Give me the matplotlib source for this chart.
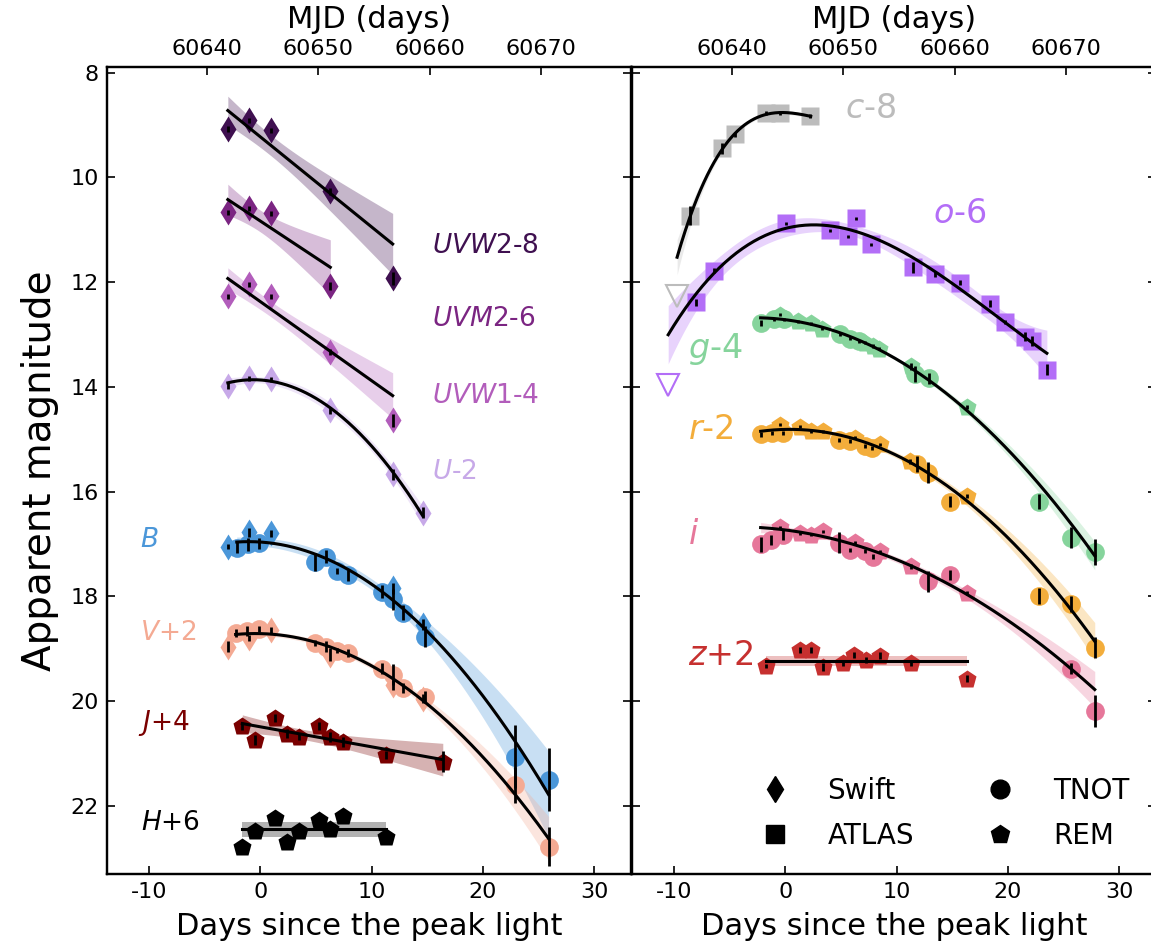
import numpy as np
import matplotlib.pyplot as plt
from matplotlib.lines import Line2D

plt.rcParams['font.family'] = 'DejaVu Sans'
plt.rcParams['mathtext.fontset'] = 'dejavusans'
plt.rcParams['axes.unicode_minus'] = False

MJD_PEAK = 60644.76

# ---- left panel: Swift UV, optical and NIR (magnitudes already offset) ----
uvw2_day = [-2.9, -1.0, 1.0, 6.3, 11.9]
uvw2_mag = [9.08, 8.91, 9.10, 10.27, 11.93]
uvw2_err = [0.05, 0.05, 0.05, 0.06, 0.12]
uvw2_tel = 'SSSSS'

uvm2_day = [-2.9, -1.0, 1.0, 6.3]
uvm2_mag = [10.67, 10.59, 10.69, 12.08]
uvm2_err = [0.05, 0.05, 0.05, 0.08]
uvm2_tel = 'SSSS'

uvw1_day = [-2.9, -1.0, 1.0, 6.3, 11.9]
uvw1_mag = [12.27, 12.04, 12.27, 13.34, 14.64]
uvw1_err = [0.05, 0.05, 0.05, 0.06, 0.12]
uvw1_tel = 'SSSSS'

u_day = [-2.9, -1.0, 1.0, 6.3, 11.9, 14.6]
u_mag = [13.99, 13.84, 13.86, 14.45, 15.67, 16.40]
u_err = [0.06, 0.04, 0.05, 0.06, 0.10, 0.10]
u_tel = 'SSSSSS'

b_day = [-2.9, -1.0, 1.0, 11.9, 14.6,
         -2.1, -1.1, -0.1, 4.9, 5.9, 6.9, 7.9, 10.9, 11.9, 12.8, 14.8, 22.9, 25.9]
b_mag = [17.05, 16.78, 16.80, 17.85, 18.54,
         17.07, 17.01, 16.99, 17.34, 17.24, 17.51, 17.60, 17.91, 18.06, 18.31, 18.77, 21.06, 21.50]
b_err = [0.05, 0.08, 0.06, 0.10, 0.10,
         0.10, 0.12, 0.10, 0.17, 0.12, 0.06, 0.10, 0.12, 0.20, 0.15, 0.20, 0.60, 0.60]
b_tel = 'SSSSS' + 'T' * 13

v_day = [-2.9, -1.0, 1.0, 6.3, 11.9, 14.6,
         -2.2, -1.2, -0.1, 4.9, 5.9, 6.9, 7.9, 10.9, 11.9, 12.8, 14.8, 22.9, 25.9]
v_mag = [18.96, 18.79, 18.64, 19.11, 19.69, 19.95,
         18.70, 18.66, 18.62, 18.89, 18.96, 19.04, 19.08, 19.38, 19.50, 19.75, 19.92, 21.60, 22.78]
v_err = [0.10, 0.06, 0.05, 0.12, 0.10, 0.08,
         0.08, 0.10, 0.06, 0.05, 0.10, 0.05, 0.08, 0.10, 0.20, 0.10, 0.12, 0.35, 0.37]
v_tel = 'SSSSSS' + 'T' * 13

j_day = [-1.6, -0.5, 1.3, 2.4, 3.5, 5.3, 6.3, 7.4, 11.3, 16.4]
j_mag = [20.47, 20.74, 20.32, 20.62, 20.68, 20.47, 20.68, 20.78, 21.03, 21.16]
j_err = [0.08, 0.10, 0.08, 0.08, 0.06, 0.08, 0.10, 0.10, 0.08, 0.20]
j_tel = 'R' * 10

h_day = [-1.6, -0.5, 1.3, 2.4, 3.5, 5.3, 6.3, 7.4, 11.3]
h_mag = [22.78, 22.48, 22.23, 22.69, 22.48, 22.27, 22.44, 22.19, 22.59]
h_err = [0.03, 0.03, 0.03, 0.03, 0.03, 0.03, 0.03, 0.03, 0.06]
h_tel = 'R' * 9

# ---- right panel: ATLAS, TNOT and REM optical ----
c_day = [-8.5, -5.7, -4.5, -1.7, -0.5, 2.2]
c_mag = [10.73, 9.45, 9.18, 8.78, 8.78, 8.83]
c_err = [0.18, 0.10, 0.05, 0.04, 0.04, 0.04]
c_tel = 'AAAAAA'

o_day = [-8.0, -6.4, 0.1, 4.0, 5.6, 6.4, 7.7, 11.5, 13.5, 15.7, 18.4, 19.7, 21.5, 22.2, 23.5]
o_mag = [12.39, 11.78, 10.88, 11.01, 11.13, 10.78, 11.28, 11.72, 11.84, 12.01,
         12.41, 12.77, 13.04, 13.13, 13.67]
o_err = [0.06, 0.04, 0.03, 0.03, 0.03, 0.03, 0.03, 0.10, 0.06, 0.05, 0.06, 0.04, 0.08, 0.10, 0.10]
o_tel = 'A' * 15

g_day = [-2.2, -1.0, -0.1, 4.9, 5.8, 6.6, 11.7, 12.9, 22.8, 25.7, 27.8,
         -0.5, 1.2, 2.3, 3.3, 7.2, 7.9, 8.4, 11.3, 16.3]
g_mag = [12.78, 12.71, 12.71, 13.00, 13.08, 13.13, 13.76, 13.84, 16.19, 16.88, 17.15,
         12.62, 12.75, 12.79, 12.89, 13.16, 13.22, 13.27, 13.61, 14.38]
g_err = [0.05, 0.03, 0.03, 0.03, 0.03, 0.03, 0.15, 0.10, 0.15, 0.20, 0.25,
         0.03, 0.03, 0.03, 0.03, 0.03, 0.03, 0.03, 0.06, 0.04]
g_tel = 'T' * 11 + 'R' * 9

r_day = [-2.2, -1.2, -0.15, 4.8, 5.8, 7.2, 7.8, 11.8, 12.8, 14.8, 22.8, 25.7, 27.8,
         -0.5, 1.3, 2.3, 3.4, 6.3, 8.5, 11.2, 16.3]
r_mag = [14.91, 14.88, 14.88, 15.01, 15.04, 15.13, 15.17, 15.48, 15.64, 16.19, 17.99, 18.14, 18.98,
         14.72, 14.76, 14.85, 14.85, 14.97, 15.10, 15.42, 16.08]
r_err = [0.05, 0.04, 0.04, 0.04, 0.04, 0.04, 0.04, 0.15, 0.20, 0.10, 0.15, 0.15, 0.20,
         0.03, 0.03, 0.03, 0.03, 0.03, 0.03, 0.05, 0.04]
r_tel = 'T' * 13 + 'R' * 8

i_day = [-2.2, -1.25, -0.15, 4.8, 5.8, 7.2, 7.9, 12.8, 14.8, 25.7, 27.8,
         -0.5, 1.3, 2.3, 3.4, 6.3, 8.5, 11.3, 16.3]
i_mag = [17.01, 16.92, 16.82, 16.98, 17.11, 17.14, 17.24, 17.71, 17.59, 19.38, 20.19,
         16.68, 16.79, 16.82, 16.76, 16.97, 17.14, 17.43, 17.94]
i_err = [0.15, 0.10, 0.10, 0.20, 0.04, 0.04, 0.04, 0.20, 0.10, 0.10, 0.30,
         0.03, 0.03, 0.03, 0.03, 0.03, 0.03, 0.04, 0.04]
i_tel = 'T' * 11 + 'R' * 8

z_day = [-1.7, 1.3, 2.3, 3.4, 5.2, 6.2, 7.3, 8.5, 11.3, 16.3]
z_mag = [19.33, 19.02, 19.02, 19.35, 19.27, 19.12, 19.21, 19.13, 19.27, 19.57]
z_err = [0.04, 0.06, 0.06, 0.08, 0.06, 0.06, 0.06, 0.06, 0.05, 0.06]
z_tel = 'R' * 10

# ATLAS non-detections (upper limits)
ulim_band = ['c', 'o']
ulim_day = [-9.7, -10.5]
ulim_mag = [12.27, 13.96]

# polynomial order and day range of each fit
fit_deg = {'uvw2': 1, 'uvm2': 1, 'uvw1': 1, 'u': 2, 'b': 2, 'v': 2, 'j': 1, 'h': 0,
           'c': 3, 'o': 3, 'g': 2, 'r': 2, 'i': 2, 'z': 0}
fit_lo = {'uvw2': -2.9, 'uvm2': -2.9, 'uvw1': -2.9, 'u': -2.9, 'b': -2.1, 'v': -2.2,
          'j': -1.6, 'h': -1.6, 'c': -9.7, 'o': -10.5, 'g': -2.2, 'r': -2.2, 'i': -2.2, 'z': -1.7}
fit_hi = {'uvw2': 11.9, 'uvm2': 6.3, 'uvw1': 11.9, 'u': 14.6, 'b': 25.9, 'v': 25.9,
          'j': 16.4, 'h': 11.3, 'c': 2.3, 'o': 23.5, 'g': 27.8, 'r': 27.8, 'i': 27.8, 'z': 16.3}
# width of the shaded band in units of the fit's 1-sigma
fit_nsig = {'uvw2': 1.2, 'uvm2': 1.2, 'uvw1': 1.0}

labels = {'uvw2': r'$UVW2$-8', 'uvm2': r'$UVM2$-6', 'uvw1': r'$UVW1$-4', 'u': r'$U$-2',
          'b': r'$B$', 'v': r'$V$+2', 'j': r'$J$+4', 'h': r'$H$+6',
          'c': r'$c$-8', 'o': r'$o$-6', 'g': r'$g$-4', 'r': r'$r$-2', 'i': r'$i$', 'z': r'$z$+2'}
label_x = {'uvw2': 15.45, 'uvm2': 15.45, 'uvw1': 15.45, 'u': 15.45, 'b': -10.8, 'v': -10.8,
           'j': -11.0, 'h': -10.7, 'c': 5.4, 'o': 13.3, 'g': -8.7, 'r': -8.7, 'i': -8.7, 'z': -8.7}
label_y = {'uvw2': 11.32, 'uvm2': 12.71, 'uvw1': 14.18, 'u': 15.62, 'b': 16.92, 'v': 18.70,
           'j': 20.42, 'h': 22.33, 'c': 8.68, 'o': 10.69, 'g': 13.27, 'r': 14.82, 'i': 16.82, 'z': 19.13}

colors = {'uvw2': '#3f1050', 'uvm2': '#7b2582', 'uvw1': '#b25dbb', 'u': '#c7a9e8',
          'b': '#4b97d9', 'v': '#f4aa93', 'j': '#7a0000', 'h': '#000000',
          'c': '#bcbcbc', 'o': '#b36ef7', 'g': '#86d49c', 'r': '#f3ad3b', 'i': '#e6779a', 'z': '#c6302f'}

data = {
    'uvw2': (uvw2_day, uvw2_mag, uvw2_err, uvw2_tel),
    'uvm2': (uvm2_day, uvm2_mag, uvm2_err, uvm2_tel),
    'uvw1': (uvw1_day, uvw1_mag, uvw1_err, uvw1_tel),
    'u': (u_day, u_mag, u_err, u_tel),
    'b': (b_day, b_mag, b_err, b_tel),
    'v': (v_day, v_mag, v_err, v_tel),
    'j': (j_day, j_mag, j_err, j_tel),
    'h': (h_day, h_mag, h_err, h_tel),
    'c': (c_day, c_mag, c_err, c_tel),
    'o': (o_day, o_mag, o_err, o_tel),
    'g': (g_day, g_mag, g_err, g_tel),
    'r': (r_day, r_mag, r_err, r_tel),
    'i': (i_day, i_mag, i_err, i_tel),
    'z': (z_day, z_mag, z_err, z_tel),
}
left_bands = ['uvw2', 'uvm2', 'uvw1', 'u', 'b', 'v', 'j', 'h']
right_bands = ['c', 'o', 'g', 'r', 'i', 'z']

markers = {'S': 'd', 'A': 's', 'T': 'o', 'R': 'p'}
telescopes = {'S': 'Swift', 'A': 'ATLAS', 'T': 'TNOT', 'R': 'REM'}
MS = 13.5


def fit_curve(day, mag, err, deg, lo, hi):
    coef, cov = np.polyfit(day, mag, deg, w=1.0 / np.asarray(err), cov=True)
    xs = np.linspace(lo, hi, 200)
    V = np.vander(xs, deg + 1)
    model = V @ coef
    sig = np.sqrt(np.einsum('ij,jk,ik->i', V, cov, V))
    return xs, model, sig


def draw_band(ax, name, fs):
    day, mag, err, tel = data[name]
    day, mag, err = np.array(day), np.array(mag), np.array(err)
    tel = np.array(list(tel))
    col = colors[name]
    xs, model, sig = fit_curve(day, mag, err, fit_deg[name], fit_lo[name], fit_hi[name])
    k = fit_nsig.get(name, 2.0)
    ax.fill_between(xs, model - k * sig, model + k * sig, color=col, alpha=0.3, lw=0, zorder=1)
    for code in markers:
        sel = tel == code
        if sel.any():
            ax.plot(day[sel], mag[sel], ls='none', marker=markers[code], ms=MS,
                    color=col, mec='none', zorder=2)
    ax.errorbar(day, mag, yerr=err, fmt='none', ecolor='k', elinewidth=2, capsize=0, zorder=3)
    ax.plot(xs, model, color='k', lw=2.2, zorder=4)
    ax.text(label_x[name], label_y[name], labels[name], color=col, fontsize=fs,
            ha='left', va='center')


fig = plt.figure(figsize=(11.51, 9.48), dpi=100)
ax1 = fig.add_axes([107 / 1151, 74 / 948, 524 / 1151, 807 / 948])
ax2 = fig.add_axes([632 / 1151, 74 / 948, 524 / 1151, 807 / 948], sharex=ax1, sharey=ax1)

for name in left_bands:
    draw_band(ax1, name, 19)
for name in right_bands:
    draw_band(ax2, name, 24)

for b, d, m in zip(ulim_band, ulim_day, ulim_mag):
    ax2.plot(d, m, ls='none', marker='v', ms=16.5, mfc='none', mec=colors[b], mew=1.5, zorder=2)

ax1.set_xlim(-13.75, 33.3)
ax1.set_ylim(23.3, 7.895)
ax1.set_yticks([8, 10, 12, 14, 16, 18, 20, 22])
ax1.set_xticks([-10, 0, 10, 20, 30])

for ax in (ax1, ax2):
    ax.tick_params(direction='in', length=6, width=1.2, labelsize=16, pad=6,
                   top=False, right=True, left=True, bottom=True)
    for sp in ax.spines.values():
        sp.set_linewidth(1.6)
    ax.set_xlabel('Days since the peak light', fontsize=22, labelpad=7)
    top = ax.twiny()
    top.set_xlim(np.array(ax1.get_xlim()) + MJD_PEAK)
    top.set_xticks([60640, 60650, 60660, 60670])
    top.xaxis.set_major_formatter(plt.FormatStrFormatter('%d'))
    top.tick_params(direction='in', length=6, width=1.2, labelsize=16, pad=6)
    top.set_xlabel('MJD (days)', fontsize=22, labelpad=8)
    for sp in top.spines.values():
        sp.set_linewidth(1.6)

ax2.tick_params(labelleft=False)
ax1.set_ylabel('Apparent magnitude', fontsize=28, labelpad=8)

handles = [Line2D([], [], ls='none', marker=markers[k], color='k', ms=MS, label=telescopes[k])
           for k in ['S', 'A', 'T', 'R']]
ax2.legend(handles=handles, ncol=2, loc='center', bbox_to_anchor=(0.584, 0.075),
           frameon=False, fontsize=20, handletextpad=0.9, columnspacing=2.1,
           labelspacing=0.6)

fig.savefig('out.png', dpi=100)
